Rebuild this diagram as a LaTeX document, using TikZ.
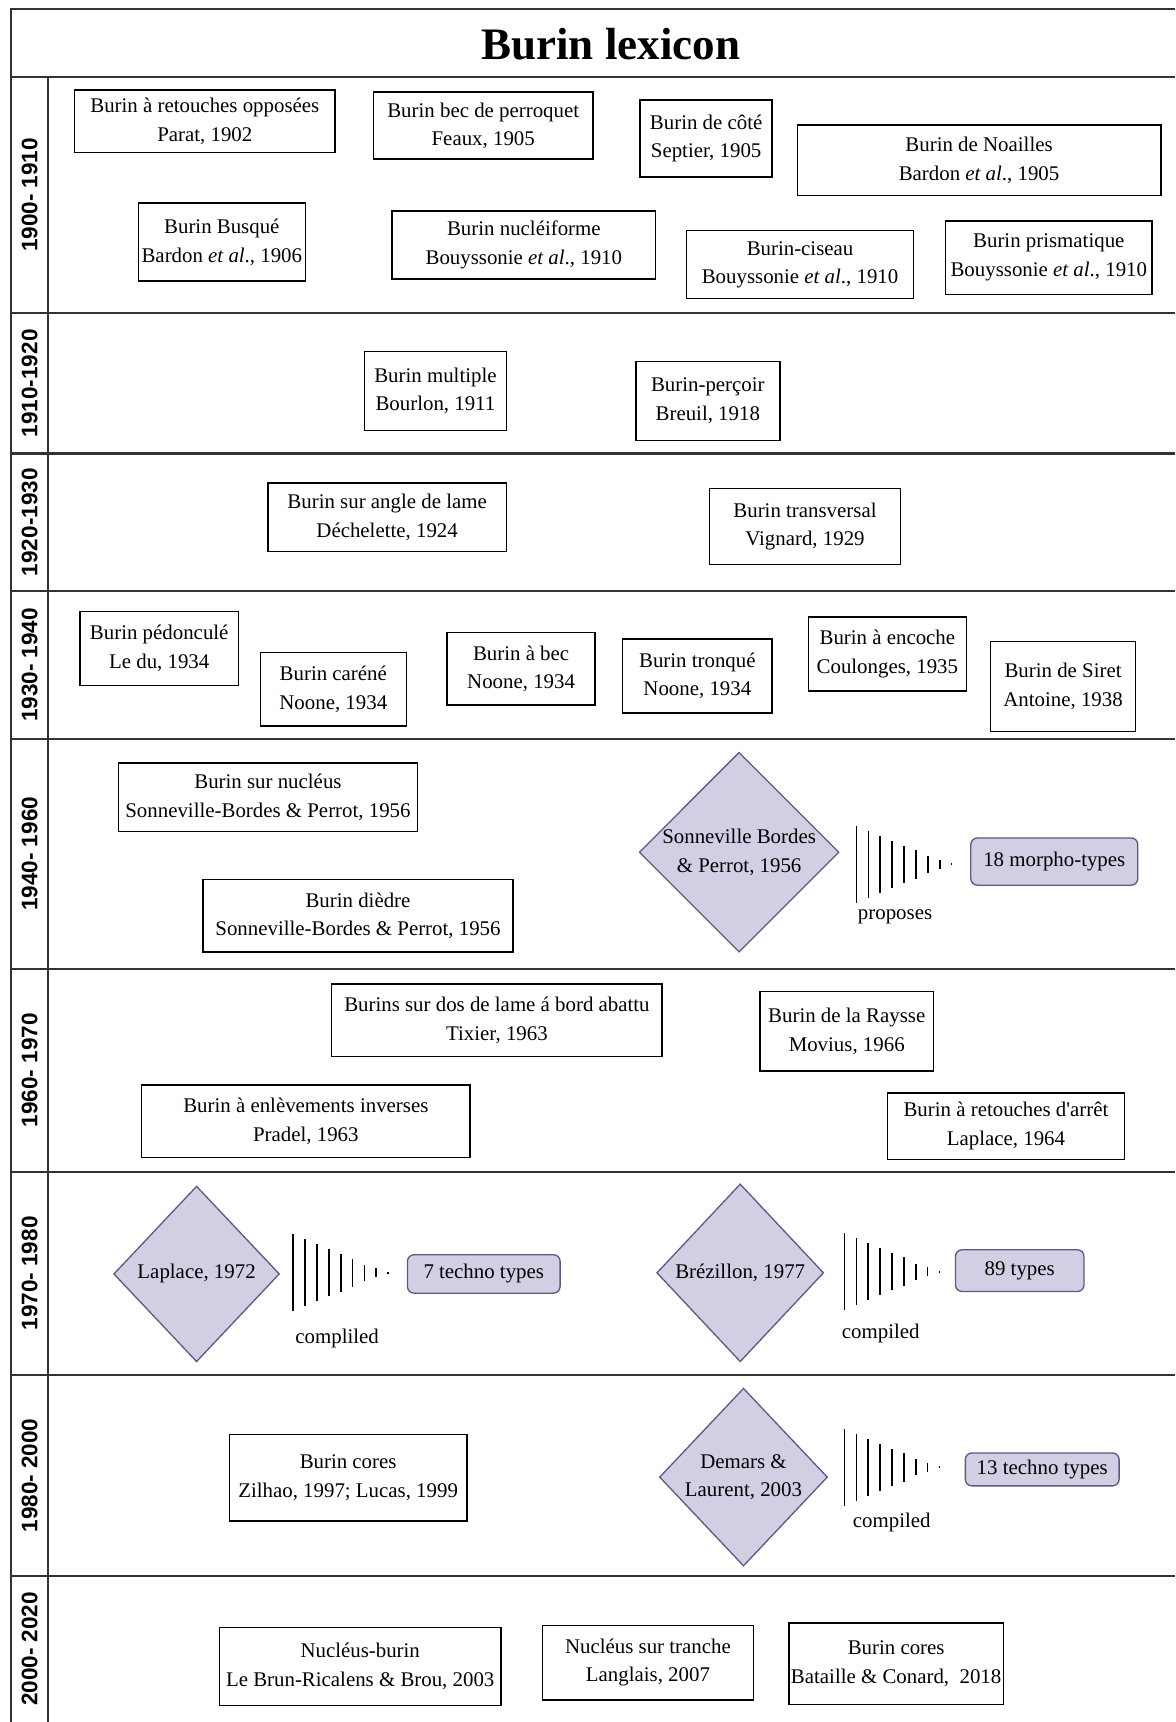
\documentclass[tikz,border=0pt]{standalone}
\usepackage{fontspec}
\setmainfont{Liberation Serif}[Ligatures=TeXOff]
\setsansfont{Liberation Sans}
\usetikzlibrary{shapes.geometric}

\definecolor{lav}{RGB}{208,207,227}
\definecolor{lavline}{RGB}{92,90,132}
\definecolor{rulegray}{RGB}{51,51,51}
\newcommand{\bodyfont}{\fontsize{19}{26}\selectfont}

% fading bars between an author and the types they list
\newcommand{\fadebars}[1]{%
    \foreach \h [count=\i from 0] in {70,61,52,43,34,26,15,8,2}
        \draw [bar] (#1) ++(10.8*\i,-\h/2) -- ++(0,\h);
}

\begin{document}
\begin{tikzpicture}[x=1pt, y=-1pt,
        block/.style={rectangle, draw, line width=1.4pt, align=center, inner sep=2pt, font=\bodyfont},
        decision/.style={diamond, draw=lavline, fill=lav, line width=1.2pt, align=center, inner sep=0pt, font=\bodyfont},
        types/.style={rectangle, rounded corners=6pt, draw=lavline, fill=lav, line width=1.2pt, font=\bodyfont},
        period/.style={rotate=90, font=\sffamily\bfseries\fontsize{20.5}{24}\selectfont},
        verb/.style={font=\bodyfont},
        frame/.style={draw=rulegray, line width=2pt},
        bar/.style={line width=1.6pt}
    ]
        \useasboundingbox (0,0) rectangle (1070,1568);

        % table frame
        \draw [frame] (10,1568) -- (10,8) -- (1070,8);
        \draw [frame] (10,70) -- (1070,70) (10,285) -- (1070,285) (10,413) -- (1070,413)
            (10,538) -- (1070,538) (10,673) -- (1070,673) (10,882) -- (1070,882)
            (10,1067) -- (1070,1067) (10,1252) -- (1070,1252) (10,1435) -- (1070,1435);
        \draw [frame] (44,70) -- (44,1568);

        \node [font=\bfseries\fontsize{41}{48}\selectfont] (title) at (556,40) {Burin lexicon};

        % periods
        \node [period] (p1900) at (27,177.5) {1900- 1910};
        \node [period] (p1910) at (27,349) {1910-1920};
        \node [period] (p1920) at (27,475.5) {1920-1930};
        \node [period] (p1930) at (27,605.5) {1930- 1940};
        \node [period] (p1940) at (27,777.5) {1940- 1960};
        \node [period] (p1960) at (27,974.5) {1960- 1970};
        \node [period] (p1970) at (27,1159.5) {1970- 1980};
        \node [period] (p1980) at (27,1343.5) {1980- 2000};
        \node [period] (p2000) at (27,1501.5) {2000- 2020};

        % 1900-1910
        \node [block, minimum width=237, minimum height=57] (opposees) at (186.5,110.5) {Burin à retouches opposées\\Parat, 1902};
        \node [block, minimum width=200, minimum height=61] (perroquet) at (440,114.5) {Burin bec de perroquet\\Feaux, 1905};
        \node [block, minimum width=120, minimum height=70] (cote) at (643,126) {Burin de côté\\Septier, 1905};
        \node [block, minimum width=331, minimum height=64] (noailles) at (891.5,146) {Burin de Noailles\\Bardon \textit{et al}., 1905};
        \node [block, minimum width=152, minimum height=71] (busque) at (202,220.5) {Burin Busqué\\Bardon \textit{et al}., 1906};
        \node [block, minimum width=240, minimum height=62] (nucleiforme) at (477,223) {Burin nucléiforme\\Bouyssonie \textit{et al}., 1910};
        \node [block, minimum width=207, minimum height=62] (ciseau) at (728.5,241) {Burin-ciseau\\Bouyssonie \textit{et al}., 1910};
        \node [block, minimum width=188, minimum height=67] (prismatique) at (955,234.5) {Burin prismatique\\Bouyssonie \textit{et al}., 1910};

        % 1910-1920
        \node [block, minimum width=129, minimum height=72] (multiple) at (396.5,356) {Burin multiple\\Bourlon, 1911};
        \node [block, minimum width=131, minimum height=72] (percoir) at (644.5,365) {Burin-perçoir\\Breuil, 1918};

        % 1920-1930
        \node [block, minimum width=217, minimum height=62] (angle) at (352.5,471) {Burin sur angle de lame\\Déchelette, 1924};
        \node [block, minimum width=174, minimum height=69] (transversal) at (733,479.5) {Burin transversal\\Vignard, 1929};

        % 1930-1940
        \node [block, minimum width=144, minimum height=67] (pedoncule) at (145,590.5) {Burin pédonculé\\Le du, 1934};
        \node [block, minimum width=133, minimum height=67] (carene) at (303.5,627.5) {Burin caréné\\Noone, 1934};
        \node [block, minimum width=135, minimum height=66] (abec) at (474.5,609) {Burin à bec\\Noone, 1934};
        \node [block, minimum width=136, minimum height=67] (tronque) at (635,615.5) {Burin tronqué\\Noone, 1934};
        \node [block, minimum width=144, minimum height=67] (encoche) at (808,595.5) {Burin à encoche\\Coulonges, 1935};
        \node [block, minimum width=132, minimum height=82] (siret) at (968,625) {Burin de Siret\\Antoine, 1938};

        % 1940-1960
        \node [block, minimum width=272, minimum height=62] (surnucleus) at (244,726) {Burin sur nucléus\\Sonneville-Bordes \& Perrot, 1956};
        \node [block, minimum width=282, minimum height=66] (diedre) at (326,834) {Burin dièdre\\Sonneville-Bordes \& Perrot, 1956};
        \node [decision, minimum width=180, minimum height=182] (sonneville) at (673,776) {Sonneville Bordes\\\& Perrot, 1956};
        \coordinate (sonnbars) at (780,787);
        \fadebars{sonnbars}
        \node [verb] (proposes) at (815,835) {proposes};
        \node [types, minimum width=152, minimum height=43] (morpho) at (960,784.5) {18 morpho-types};

        % 1960-1970
        \node [block, minimum width=301, minimum height=66] (dos) at (452.5,929) {Burins sur dos de lame á bord abattu\\Tixier, 1963};
        \node [block, minimum width=158, minimum height=72] (raysse) at (771,939) {Burin de la Raysse\\Movius, 1966};
        \node [block, minimum width=299, minimum height=66] (inverses) at (278.5,1021) {Burin à enlèvements inverses\\Pradel, 1963};
        \node [block, minimum width=216, minimum height=61] (arret) at (916,1025.5) {Burin à retouches d'arrêt\\Laplace, 1964};

        % 1970-1980
        \node [decision, minimum width=151, minimum height=160] (laplace) at (179,1160) {Laplace, 1972};
        \coordinate (laplacebars) at (267,1159);
        \fadebars{laplacebars}
        \node [verb] (compliled) at (307,1219) {compliled};
        \node [types, minimum width=139, minimum height=35, right of=laplace, node distance=261.5] (techno7) {7 techno types};

        \node [decision, minimum width=152, minimum height=162] (brezillon) at (674,1159) {Brézillon, 1977};
        \coordinate (brezbars) at (769,1158);
        \fadebars{brezbars}
        \node [verb] (compiledb) at (802,1214) {compiled};
        \node [types, minimum width=117, minimum height=38] (types89) at (928.5,1157) {89 types};

        % 1980-2000
        \node [block, minimum width=216, minimum height=79] (cores) at (317,1345.5) {Burin cores\\Zilhao, 1997; Lucas, 1999};
        \node [decision, minimum width=153, minimum height=162] (demars) at (677,1345) {Demars \&\\Laurent, 2003};
        \coordinate (demarsbars) at (769,1336);
        \fadebars{demarsbars}
        \node [verb] (compiledd) at (812,1386) {compiled};
        \node [types, minimum width=140, minimum height=30] (techno13) at (949,1338) {13 techno types};

        % 2000-2020
        \node [block, minimum width=256, minimum height=71] (nucburin) at (328,1517.5) {Nucléus-burin\\Le Brun-Ricalens \& Brou, 2003};
        \node [block, minimum width=192, minimum height=68] (tranche) at (590,1514) {Nucléus sur tranche\\Langlais, 2007};
        \node [block, minimum width=188, minimum height=74] (bataille) at (816,1515) {Burin cores\\Bataille \& Conard,~ 2018};
    \end{tikzpicture}
\end{document}
